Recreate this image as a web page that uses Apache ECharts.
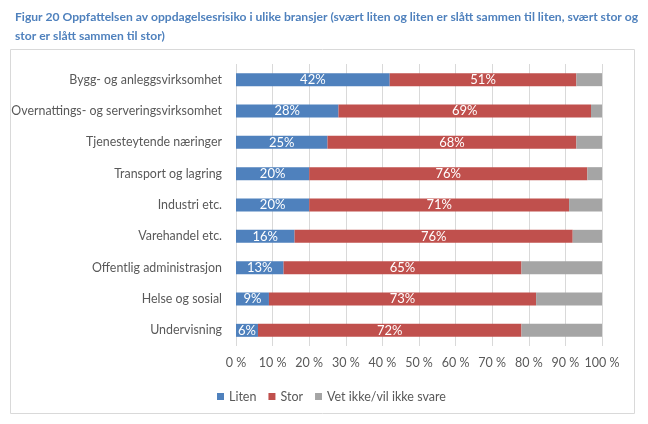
<!DOCTYPE html>
<html><head><meta charset="utf-8">
<script src="https://cdn.jsdelivr.net/npm/echarts@6/dist/echarts.min.js"></script>
<style>html,body{margin:0;padding:0;background:#fff}#c{width:648px;height:424px}</style>
</head><body><div id="c"></div>
<script>
const categories = ["Bygg- og anleggsvirksomhet","Overnattings- og serveringsvirksomhet","Tjenesteytende næringer","Transport og lagring","Industri etc.","Varehandel etc.","Offentlig administrasjon","Helse og sosial","Undervisning"];
const liten = [42,28,25,20,20,16,13,9,6];
const stor = [51,69,68,76,71,76,65,73,72];
const vetIkke = [7,3,7,4,9,8,22,18,22];
const seriesNames = ["Liten","Stor","Vet ikke/vil ikke svare"];
const xTicks = [0,10,20,30,40,50,60,70,80,90,100];

const font = "Lato, 'Open Sans', sans-serif";
const chart = echarts.init(document.getElementById('c'), null, {renderer:'canvas'});
const lbl = {show:true, position:'inside', color:'#fff', fontSize:13, fontFamily:font, formatter: p => p.value + '%'};
chart.setOption({
  animation:false,
  title:{text:"Figur 20 Oppfattelsen av oppdagelsesrisiko i ulike bransjer (svært liten og liten er slått sammen til liten, svært stor og\nstor er slått sammen til stor)", left:10, top:3,
    textStyle:{color:'#4F81BD', fontSize:12.1, fontWeight:'bold', fontFamily:font, lineHeight:19}},
  graphic:[{type:'rect', shape:{x:10.5,y:49.5,width:624,height:364}, style:{fill:'none', stroke:'#d9d9d9', lineWidth:1}, silent:true}],
  legend:{left:212, top:385, itemWidth:7, itemHeight:7, itemGap:12, icon:'rect',
    textStyle:{color:'#595959', fontSize:12.5, fontFamily:font}, data:seriesNames},
  grid:{left:236, right:46, top:64, bottom:78},
  xAxis:{type:'value', min:0, max:100, interval:10,
    axisLine:{show:false}, axisTick:{show:false},
    splitLine:{lineStyle:{color:'#d9d9d9'}},
    axisLabel:{color:'#595959', fontSize:12.5, fontFamily:font, margin:10, formatter: v => xTicks.includes(v) ? v + ' %' : ''}},
  yAxis:{type:'category', data:categories, inverse:true,
    axisLine:{show:false}, axisTick:{show:false},
    axisLabel:{color:'#595959', fontSize:12.4, fontFamily:font, margin:14}},
  series:[
    {name:seriesNames[0], type:'bar', stack:'t', data:liten, barWidth:13, itemStyle:{color:'#4F81BD'}, label:lbl},
    {name:seriesNames[1], type:'bar', stack:'t', data:stor, barWidth:13, itemStyle:{color:'#C0504D'}, label:lbl},
    {name:seriesNames[2], type:'bar', stack:'t', data:vetIkke, barWidth:13, itemStyle:{color:'#A5A5A5'}, label:{show:false}}
  ]
});
</script></body></html>
